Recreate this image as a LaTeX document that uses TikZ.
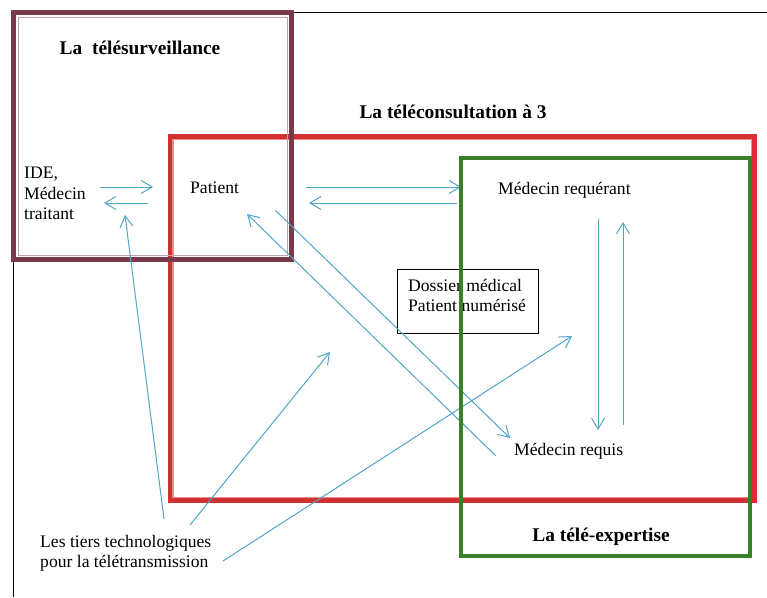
\documentclass[tikz,border=0pt]{standalone}
\usepackage{fontspec}
\setmainfont{Liberation Serif}
\usetikzlibrary{arrows.meta}
\definecolor{survcol}{RGB}{122,58,76}
\definecolor{survlight}{RGB}{196,160,170}
\definecolor{conscol}{RGB}{208,50,50}
\definecolor{conslight}{RGB}{236,140,140}
\definecolor{expcol}{RGB}{58,128,40}
\definecolor{flowcol}{RGB}{80,165,200}

\begin{document}
\begin{tikzpicture}[x=1pt,y=-1pt,
  lbl/.style={inner sep=0pt,font=\fontsize{17.6}{20.5}\selectfont},
  title/.style={inner sep=0pt,font=\fontsize{19.4}{22}\selectfont\bfseries},
  flow/.style={draw=flowcol,line width=1pt,-{Straight Barb[length=11pt,width=13pt,line width=1pt]}}]
      \useasboundingbox (0,0) rectangle (767,597);
      % page frame
      \draw[line width=1pt] (13,597) -- (13,12) -- (767,12);
      % la teleconsultation
      \draw[conscol,line width=5pt] (170,136.5) rectangle (754.5,500.5);
      \draw[conslight,line width=1.2pt] (173,139.5) rectangle (751.5,497.5);
      % la telesurveillance
      \draw[survcol,line width=5pt] (13.5,12.5) rectangle (291.5,259.5);
      \draw[survlight,line width=1pt] (18,17) rectangle (287,255);
      \node[title] (tsurv) at (140,48) {La\ \ télésurveillance};
      \node[title] (tcons) at (453,112) {La téléconsultation à 3};
      \node[title] (texp) at (601,537) {La télé-expertise};
      \node[lbl,align=left,anchor=north west] (ide) at (24,167) {IDE,\\Médecin\\traitant};
      \node[lbl,anchor=base west] (pat) at (190,193) {Patient};
      \node[lbl,anchor=base west] (mreq) at (498,194) {Médecin requérant};
      \node[lbl,anchor=base west] (mrqs) at (514,455) {Médecin requis};
      \node[lbl,align=left,anchor=north west] (dos) at (408,279) {Dossier médical\\Patient numérisé};
      \draw[line width=0.9pt] (397,269) rectangle (538,333);
      \node[lbl,align=left,anchor=north west] (tiers) at (40,535) {Les tiers technologiques\\pour la télétransmission};
      % arrow ends
      \coordinate (ide-o) at (100,187);  \coordinate (pat-i) at (153,187);
      \coordinate (pat-o) at (148,203);  \coordinate (ide-i) at (104,203);
      \coordinate (pat-r) at (306,187);  \coordinate (req-i) at (461,187);
      \coordinate (req-o) at (457,203);  \coordinate (pat-l) at (309,203);
      \coordinate (req-d) at (598,219);  \coordinate (rqs-i) at (598,430);
      \coordinate (rqs-u) at (623,425);  \coordinate (req-u) at (623,222);
      \coordinate (pat-d) at (275,210);  \coordinate (rqs-a) at (510,438);
      \coordinate (rqs-b) at (496,456);  \coordinate (pat-b) at (247,214);
      \coordinate (tt-1) at (164,519);   \coordinate (ide-b) at (125,215);
      \coordinate (tt-2) at (190,525);   \coordinate (mid-c) at (330,352);
      \coordinate (tt-3) at (223,561);   \coordinate (exp-c) at (572,336);
      \path[every edge/.style=flow]
      (ide-o) edge (pat-i)
      (pat-o) edge (ide-i)
      (pat-r) edge (req-i)
      (req-o) edge (pat-l)
      (req-d) edge (rqs-i)
      (rqs-u) edge (req-u)
      (pat-d) edge (rqs-a)
      (rqs-b) edge (pat-b)
      (tt-1) edge (ide-b)
      (tt-2) edge (mid-c)
      (tt-3) edge (exp-c)
      ; %end path
      % la tele-expertise
      \draw[expcol,line width=3.8pt] (461,158) rectangle (750,556);
\end{tikzpicture}
\end{document}
